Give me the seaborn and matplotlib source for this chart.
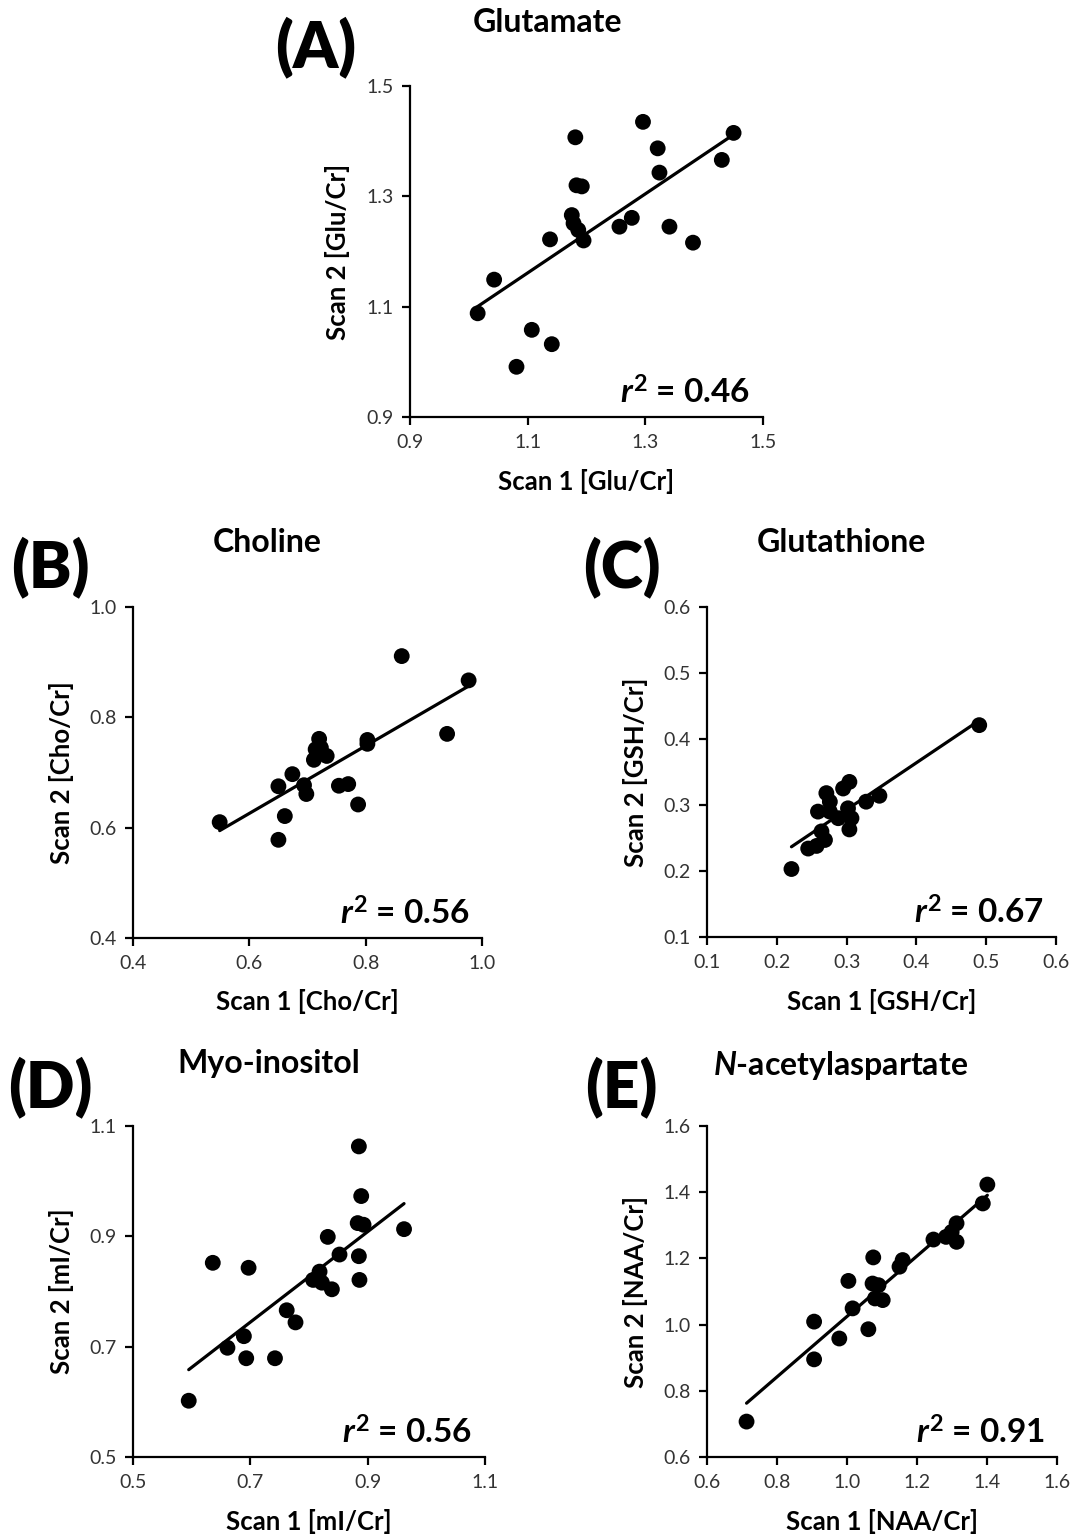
import numpy as np
import pandas as pd
import matplotlib
matplotlib.use("Agg")
import matplotlib.pyplot as plt
import seaborn as sns

# ---------------- data ----------------
glu_scan1 = [1.015, 1.043, 1.081, 1.107, 1.141, 1.138, 1.181, 1.183, 1.192, 1.175, 1.178,
             1.186, 1.195, 1.256, 1.277, 1.296, 1.321, 1.324, 1.341, 1.381, 1.430, 1.450]
glu_scan2 = [1.088, 1.149, 0.991, 1.058, 1.032, 1.222, 1.407, 1.320, 1.318, 1.266, 1.251,
             1.239, 1.220, 1.245, 1.261, 1.435, 1.387, 1.343, 1.245, 1.216, 1.366, 1.415]

cho_scan1 = [0.549, 0.650, 0.661, 0.650, 0.674, 0.694, 0.698, 0.711, 0.714, 0.720, 0.723,
             0.733, 0.754, 0.770, 0.787, 0.803, 0.803, 0.862, 0.940, 0.977]
cho_scan2 = [0.610, 0.578, 0.621, 0.675, 0.697, 0.677, 0.661, 0.723, 0.742, 0.761, 0.745,
             0.730, 0.676, 0.679, 0.642, 0.759, 0.752, 0.911, 0.770, 0.867]

gsh_scan1 = [0.221, 0.245, 0.257, 0.269, 0.264, 0.259, 0.276, 0.271, 0.276, 0.288, 0.295,
             0.304, 0.307, 0.304, 0.328, 0.347, 0.302, 0.490]
gsh_scan2 = [0.203, 0.234, 0.238, 0.247, 0.260, 0.290, 0.290, 0.318, 0.305, 0.280, 0.325,
             0.335, 0.280, 0.263, 0.305, 0.314, 0.295, 0.421]

mi_scan1 = [0.595, 0.636, 0.661, 0.689, 0.693, 0.697, 0.742, 0.762, 0.777, 0.807, 0.818,
            0.822, 0.839, 0.832, 0.852, 0.885, 0.889, 0.883, 0.893, 0.885, 0.886, 0.962]
mi_scan2 = [0.602, 0.852, 0.698, 0.719, 0.679, 0.843, 0.679, 0.766, 0.744, 0.821, 0.836,
            0.816, 0.804, 0.899, 0.867, 1.063, 0.973, 0.924, 0.921, 0.864, 0.821, 0.913]

naa_scan1 = [0.713, 0.906, 0.906, 0.978, 1.004, 1.016, 1.061, 1.075, 1.073, 1.090, 1.080,
             1.102, 1.150, 1.159, 1.247, 1.283, 1.299, 1.313, 1.313, 1.388, 1.401]
naa_scan2 = [0.707, 0.895, 1.009, 0.958, 1.132, 1.049, 0.986, 1.203, 1.124, 1.119, 1.079,
             1.074, 1.175, 1.195, 1.257, 1.265, 1.280, 1.306, 1.250, 1.366, 1.423]

panel_letters = ["(A)", "(B)", "(C)", "(D)", "(E)"]
titles = ["Glutamate", "Choline", "Glutathione", "Myo-inositol", r"$\mathit{N}$-acetylaspartate"]
xlabels = ["Scan 1 [Glu/Cr]", "Scan 1 [Cho/Cr]", "Scan 1 [GSH/Cr]", "Scan 1 [mI/Cr]", "Scan 1 [NAA/Cr]"]
ylabels = ["Scan 2 [Glu/Cr]", "Scan 2 [Cho/Cr]", "Scan 2 [GSH/Cr]", "Scan 2 [mI/Cr]", "Scan 2 [NAA/Cr]"]
r2_values = ["0.46", "0.56", "0.67", "0.56", "0.91"]
xticks = [[0.9, 1.1, 1.3, 1.5], [0.4, 0.6, 0.8, 1.0], [0.1, 0.2, 0.3, 0.4, 0.5, 0.6],
          [0.5, 0.7, 0.9, 1.1], [0.6, 0.8, 1.0, 1.2, 1.4, 1.6]]
yticks = [[0.9, 1.1, 1.3, 1.5], [0.4, 0.6, 0.8, 1.0], [0.1, 0.2, 0.3, 0.4, 0.5, 0.6],
          [0.5, 0.7, 0.9, 1.1], [0.6, 0.8, 1.0, 1.2, 1.4, 1.6]]

datasets = [(glu_scan1, glu_scan2), (cho_scan1, cho_scan2), (gsh_scan1, gsh_scan2),
            (mi_scan1, mi_scan2), (naa_scan1, naa_scan2)]

# ---------------- style ----------------
sns.set_style("white")
FONT = "Lato"
plt.rcParams["font.family"] = [FONT, "DejaVu Sans"]
plt.rcParams["text.color"] = "black"
plt.rcParams["mathtext.fontset"] = "custom"
plt.rcParams["mathtext.it"] = f"{FONT}:italic:bold"
plt.rcParams["mathtext.bf"] = f"{FONT}:bold"
plt.rcParams["mathtext.rm"] = f"{FONT}:bold"

W, H = 1075, 1534
fig = plt.figure(figsize=(W / 100, H / 100), dpi=100)

# axes boxes in pixels: left, right, top, bottom
boxes = [(410, 763, 86, 417), (133, 482, 607, 938), (707, 1056, 607, 937),
         (133, 485, 1126, 1457), (707, 1057, 1126, 1457)]
# panel letter centre, title centre (pixels)
letter_pos = [(316, 47), (50, 567), (622, 567), (50, 1087), (621, 1087)]
title_pos = [(548, 23), (267, 543), (841, 543), (269, 1063), (841, 1065)]


def fx(x):
    return x / W


def fy(y):
    return 1 - y / H


for i, ((xs, ys), (l, r, t, b)) in enumerate(zip(datasets, boxes)):
    ax = fig.add_axes([fx(l), fy(b), (r - l) / W, (b - t) / H])
    df = pd.DataFrame({"s1": xs, "s2": ys})
    sns.regplot(data=df, x="s1", y="s2", ax=ax, ci=None, color="black",
                scatter_kws=dict(s=130, edgecolor="none", alpha=1),
                line_kws=dict(lw=2.3))
    ax.set_xlim(xticks[i][0], xticks[i][-1])
    ax.set_ylim(yticks[i][0], yticks[i][-1])
    ax.set_xticks(xticks[i])
    ax.set_yticks(yticks[i])
    ax.set_xticklabels([f"{v:.1f}" for v in xticks[i]])
    ax.set_yticklabels([f"{v:.1f}" for v in yticks[i]])
    for s in ["top", "right"]:
        ax.spines[s].set_visible(False)
    for s in ["left", "bottom"]:
        ax.spines[s].set_linewidth(1.6)
        ax.spines[s].set_color("black")
    ax.tick_params(axis="both", direction="out", length=6, width=1.6, color="black",
                   labelsize=14, labelcolor="#333333", pad=6, bottom=True, left=True)
    ax.set_xlabel("")
    ax.set_ylabel("")
    # axis labels
    fig.text(fx((l + r) / 2), fy(b + 64), xlabels[i], ha="center", va="center",
             fontsize=18.5, fontweight="bold", color="black")
    fig.text(fx(l - 72), fy((t + b) / 2), ylabels[i], ha="center", va="center",
             rotation=90, fontsize=18.5, fontweight="bold", color="black")
    # r^2 annotation
    ax.text(0.965, 0.04, r"$\mathit{r}^{\mathbf{2}}$" + " = " + r2_values[i],
            transform=ax.transAxes, ha="right", va="baseline",
            fontsize=24, fontweight="bold", color="black")
    # letters and titles
    fig.text(fx(letter_pos[i][0]), fy(letter_pos[i][1]), panel_letters[i],
             ha="center", va="center", fontsize=46, fontweight="heavy", color="black")
    fig.text(fx(title_pos[i][0]), fy(title_pos[i][1]), titles[i],
             ha="center", va="center", fontsize=23, fontweight="bold", color="black")

fig.savefig("out.png", dpi=100, facecolor="white")
